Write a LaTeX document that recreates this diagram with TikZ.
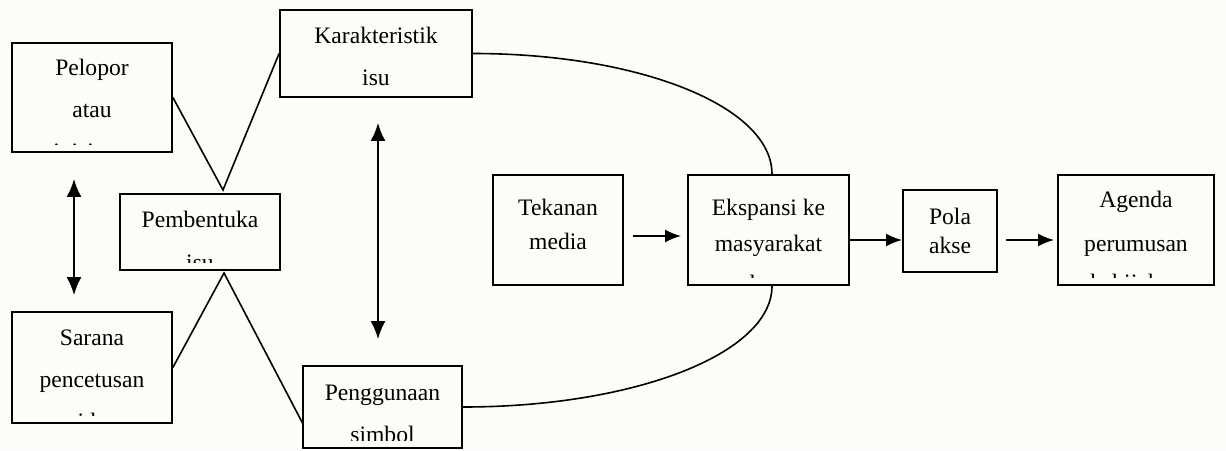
\documentclass[tikz,border=0pt]{standalone}
\usepackage{fontspec}
\setmainfont{Liberation Serif}
\usepackage{tikz}
\usetikzlibrary{arrows.meta,calc}
\definecolor{latar}{rgb}{0.988,0.988,0.976}
% isi kotak: jarak baris, tinggi baris pertama, teks (terpotong di bawah)
\newcommand{\isi}[3]{%
  \clip (path picture bounding box.north west) rectangle ([yshift=4pt]path picture bounding box.south east);
  \node[Isi=#1] at (path picture bounding box.north) {\rule{0pt}{#2}#3};}

\begin{document}
\begin{tikzpicture}[
x=0.5pt, y=-0.5pt,
Kotak/.style={draw=black, line width=0.9pt, inner sep=0pt},
Isi/.style={font=\fontsize{11.8}{#1}\selectfont, anchor=north, inner sep=0pt,
  minimum width=0pt, minimum height=0pt, align=center},
Garis/.style={draw=black, line width=0.8pt},
Panah/.style={-{Latex[length=8pt, width=6.5pt]}, line width=1pt},
PanahDua/.style={{Latex[length=9pt, width=7.5pt]}-{Latex[length=9pt, width=7.5pt]}, line width=1pt}
]

\fill[latar] (0,0) rectangle (1226,450);
\useasboundingbox (0,0) rectangle (1226,450);

% kotak kiri
\node[Kotak, minimum width=80pt, minimum height=54.5pt,
  path picture={\isi{21pt}{16pt}{Pelopor\\atau\\inisiator}}] (pelopor) at (92,97.5) {};
\node[Kotak, minimum width=80pt, minimum height=38pt,
  path picture={\isi{21.5pt}{16.5pt}{Pembentuka\\isu}}] (pembentukan) at (200,232) {};
\node[Kotak, minimum width=80pt, minimum height=55.5pt,
  path picture={\isi{21pt}{16.5pt}{Sarana\\pencetusan\\ide}}] (sarana) at (92,367.5) {};
\node[Kotak, minimum width=96pt, minimum height=43.5pt,
  path picture={\isi{21pt}{16.5pt}{Karakteristik\\isu}}] (karakteristik) at (376,53.5) {};
\node[Kotak, minimum width=79.5pt, minimum height=41pt,
  path picture={\isi{21pt}{17pt}{Penggunaan\\simbol}}] (penggunaan) at (382.5,407) {};

% kotak kanan
\node[Kotak, minimum width=65pt, minimum height=55pt,
  path picture={\isi{17pt}{20pt}{Tekanan\\media}}] (tekanan) at (558,230) {};
\node[Kotak, minimum width=80.5pt, minimum height=55pt,
  path picture={\isi{18pt}{20pt}{Ekspansi ke\\masyarakat\\[2pt]luas}}] (ekspansi) at (768.5,230) {};
\node[Kotak, minimum width=47pt, minimum height=41pt,
  path picture={\isi{14.5pt}{17pt}{Pola\\akse}}] (pola) at (950,231) {};
\node[Kotak, minimum width=78pt, minimum height=55pt,
  path picture={\isi{22pt}{16pt}{Agenda\\perumusan\\[-2.5pt]kebijakan}}] (agenda) at (1136,230) {};

% garis
\coordinate (puncakAtas) at (223,190);
\coordinate (puncakBawah) at (224,273);
\coordinate (ujungSimbol) at (303,424);

\draw[Garis] (pelopor.east) -- (puncakAtas) -- (karakteristik.west);
\draw[Garis] (sarana.east) -- (puncakBawah) -- (ujungSimbol);

\draw[Garis] (karakteristik.east) .. controls +(166,0) and +(0,-68) .. ([xshift=1.75pt]ekspansi.north);
\draw[Garis] (penggunaan.east) .. controls +(171,0) and +(0,68) .. ([xshift=1.75pt]ekspansi.south);

% panah
\draw[PanahDua, shorten <=13pt, shorten >=8pt] ([xshift=-9pt]pelopor.south) -- ([xshift=-9pt]sarana.north);
\draw[PanahDua, shorten <=12.5pt, shorten >=13pt] ([xshift=1pt]karakteristik.south) -- ([xshift=-2.25pt]penggunaan.north);

\draw[Panah, shorten <=4.5pt, shorten >=3pt] ([yshift=-3pt]tekanan.east) -- ([yshift=-3pt]ekspansi.west);
\draw[Panah] ([yshift=-5pt]ekspansi.east) -- ([yshift=-4.5pt]pola.west);
\draw[Panah, shorten <=4pt, shorten >=1.5pt] ([yshift=-4.5pt]pola.east) -- ([yshift=-5pt]agenda.west);

\end{tikzpicture}
\end{document}
